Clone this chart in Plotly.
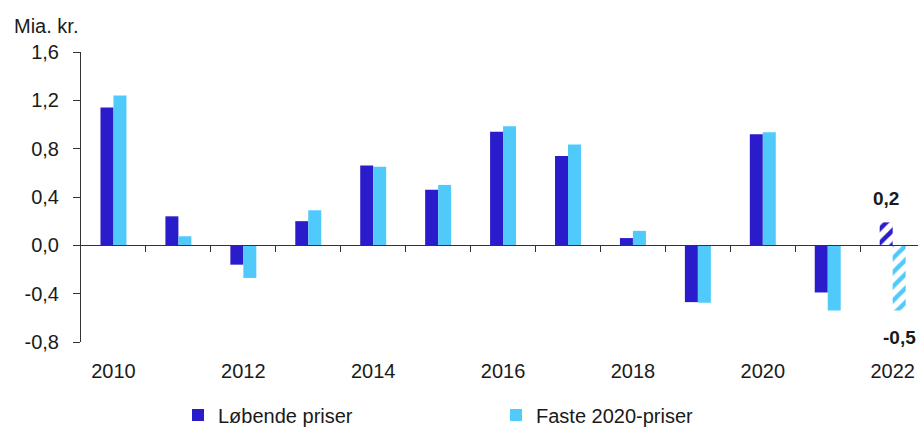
import plotly.graph_objects as go

years = list(range(2010, 2023))
loebende = [1.14, 0.24, -0.16, 0.20, 0.66, 0.46, 0.94, 0.74, 0.06, -0.47, 0.92, -0.39, 0.19]
faste = [1.24, 0.075, -0.27, 0.29, 0.65, 0.50, 0.985, 0.835, 0.12, -0.475, 0.935, -0.54, -0.54]
forecast = [False] * 12 + [True]
label_loebende = "0,2"
label_faste = "-0,5"
tick_years = [2010, 2012, 2014, 2016, 2018, 2020, 2022]
y_ticks = [-0.8, -0.4, 0.0, 0.4, 0.8, 1.2, 1.6]

C1 = "#2A1BCB"
C2 = "#50CAFB"
FONT = "Liberation Sans, Arial, sans-serif"
TXT = "#1a1a1a"

def pat(color):
    return dict(
        shape=["/" if f else "" for f in forecast],
        fgcolor=color,
        bgcolor="white",
        size=10,
        solidity=0.45,
        fillmode="replace",
    )

fig = go.Figure()
fig.add_trace(go.Bar(x=years, y=loebende, name="Løbende priser",
                     marker=dict(color=C1, line=dict(width=0), pattern=pat(C1))))
fig.add_trace(go.Bar(x=years, y=faste, name="Faste 2020-priser",
                     marker=dict(color=C2, line=dict(width=0), pattern=pat(C2))))

xr = [2009.5, 2022.39]
fig.update_layout(
    width=918, height=430,
    margin=dict(l=81, r=0, t=52, b=88, autoexpand=False),
    plot_bgcolor="white", paper_bgcolor="white",
    barmode="group", bargap=0.6, bargroupgap=0,
    font=dict(family=FONT, size=20, color=TXT),
    showlegend=True,
    legend=dict(orientation="h", x=178 / 918, xref="container", xanchor="left",
                y=15 / 430, yref="container", yanchor="middle",
                font=dict(size=20, color=TXT), entrywidth=273, entrywidthmode="pixels",
                itemwidth=30, bgcolor="rgba(0,0,0,0)"),
    xaxis=dict(range=xr, tickvals=tick_years, ticktext=[str(y) for y in tick_years],
               showline=False, ticks="", showgrid=False, zeroline=False,
               ticklabelstandoff=15, tickfont=dict(size=20, color=TXT)),
    xaxis2=dict(range=xr, overlaying="x", anchor="free", position=0.8 / 2.4,
                showline=True, linecolor="#333333", linewidth=1,
                ticks="outside", ticklen=6, tickcolor="#333333",
                tickvals=[y + 0.5 for y in years[:-1]], showticklabels=False,
                showgrid=False, zeroline=False),
    yaxis=dict(range=[-0.8, 1.6], tickvals=y_ticks,
               ticktext=[f"{v:.1f}".replace(".", ",") for v in y_ticks],
               showline=True, linecolor="#333333", linewidth=1,
               ticks="outside", ticklen=7, tickcolor="#333333",
               showgrid=False, zeroline=False, ticklabelstandoff=10,
               tickfont=dict(size=20, color=TXT)),
)
# invisible point so the zero-line axis is drawn
fig.add_trace(go.Scatter(x=[years[0]], y=[0], xaxis="x2", mode="markers",
                         marker=dict(opacity=0), showlegend=False, hoverinfo="skip"))

fig.add_annotation(x=years[-1] - 0.1, y=loebende[-1], text=f"<b>{label_loebende}</b>",
                   showarrow=False, yanchor="bottom", yshift=11,
                   font=dict(size=19, color=TXT))
fig.add_annotation(x=years[-1] + 0.1, y=faste[-1], text=f"<b>{label_faste}</b>",
                   showarrow=False, yanchor="top", yshift=-14,
                   font=dict(size=19, color=TXT))
fig.add_annotation(xref="paper", yref="paper", x=-0.083, y=1.0, yshift=26,
                   text="Mia. kr.", showarrow=False, xanchor="left", yanchor="middle",
                   font=dict(size=20, color=TXT))

fig.write_html("out.html")
